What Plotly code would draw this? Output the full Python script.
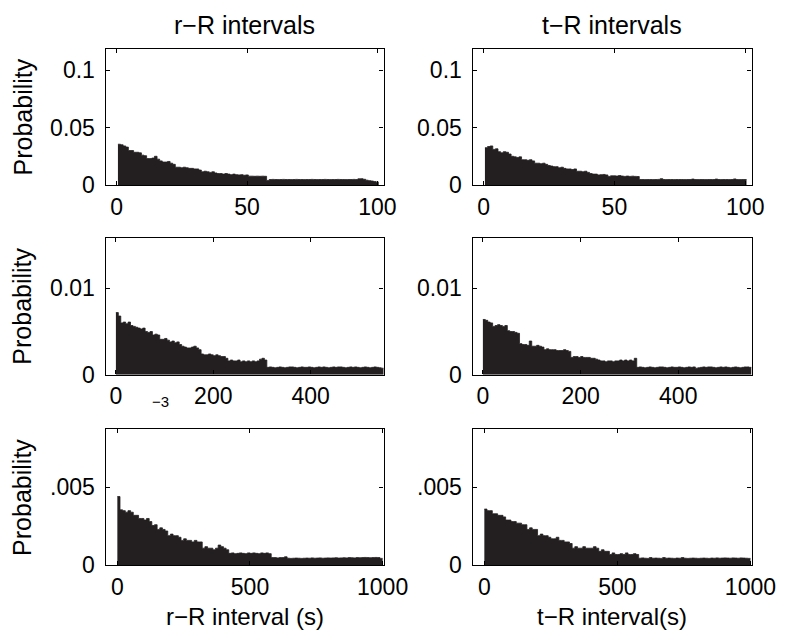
import plotly.graph_objects as go

# ---------------- data ----------------
# Row 1: bins of width 1 s, centred on 1..100
top_bin_width = 1
top_bin_start = 0.5
rr_top = [
    0.0355, 0.035, 0.034, 0.033, 0.030, 0.030, 0.0285, 0.0285, 0.028, 0.026,
    0.0255, 0.023, 0.023, 0.0235, 0.025, 0.0225, 0.021, 0.020, 0.020, 0.0205,
    0.019, 0.018, 0.0155, 0.0155, 0.015, 0.0155, 0.015, 0.0145, 0.0145, 0.014,
    0.014, 0.013, 0.0115, 0.012, 0.0115, 0.011, 0.0115, 0.0105, 0.010, 0.010,
    0.0095, 0.010, 0.0095, 0.009, 0.0095, 0.009, 0.0088, 0.009, 0.0085, 0.0088,
    0.0077, 0.0077, 0.0076, 0.0077, 0.0076, 0.0077, 0.0076, 0.0040, 0.0048, 0.0049,
    0.0048, 0.0047, 0.0048, 0.0049, 0.0048, 0.0048, 0.0047, 0.0048, 0.0049, 0.0048,
    0.0048, 0.0047, 0.0048, 0.0048, 0.0049, 0.0048, 0.0047, 0.0048, 0.0048, 0.0049,
    0.0048, 0.0047, 0.0048, 0.0048, 0.0049, 0.0048, 0.0048, 0.0047, 0.0048, 0.0048,
    0.0049, 0.0048, 0.0054, 0.0055, 0.0050, 0.0042, 0.0038, 0.0035, 0.0030, 0.0025,
]
tr_top = [
    0.0325, 0.0335, 0.034, 0.031, 0.0315, 0.029, 0.028, 0.029, 0.0285, 0.027,
    0.025, 0.0245, 0.024, 0.0245, 0.022, 0.022, 0.0215, 0.022, 0.021, 0.019,
    0.019, 0.0185, 0.019, 0.018, 0.017, 0.0165, 0.016, 0.016, 0.015, 0.0155,
    0.0145, 0.014, 0.014, 0.0135, 0.014, 0.012, 0.012, 0.0115, 0.012, 0.011,
    0.010, 0.0095, 0.0095, 0.0088, 0.009, 0.0092, 0.0088, 0.0075, 0.008, 0.008,
    0.0078, 0.0082, 0.0078, 0.0075, 0.0078, 0.0075, 0.0077, 0.0075, 0.0074, 0.0048,
    0.0048, 0.0047, 0.0048, 0.0048, 0.0047, 0.0048, 0.0049, 0.0055, 0.0048, 0.0047,
    0.0048, 0.0048, 0.0047, 0.0048, 0.0048, 0.0048, 0.0047, 0.0048, 0.0048, 0.0052,
    0.0048, 0.0047, 0.0048, 0.0048, 0.0047, 0.0048, 0.0048, 0.0048, 0.0052, 0.0048,
    0.0047, 0.0048, 0.0048, 0.0047, 0.0048, 0.0053, 0.0048, 0.0047, 0.0048, 0.0048,
]

# Row 2: bins of width 5 s, from 0 to 550
mid_bin_width = 5
mid_bin_start = 0
rr_mid = [
    0.0072, 0.0068, 0.0060, 0.0061, 0.0059, 0.0061, 0.0057, 0.0056, 0.0055, 0.0054,
    0.0053, 0.0054, 0.0050, 0.0049, 0.0050, 0.0046, 0.0047, 0.0046, 0.0041, 0.0041,
    0.0042, 0.0040, 0.0038, 0.0039, 0.0037, 0.0038, 0.0035, 0.0033, 0.0032, 0.0031,
    0.0031, 0.0032, 0.0033, 0.0031, 0.0029, 0.0024, 0.0023, 0.0023, 0.0024, 0.0023,
    0.0022, 0.0023, 0.0022, 0.0021, 0.0021, 0.0019, 0.0016, 0.0017, 0.0016, 0.0016,
    0.0017, 0.0015, 0.0016, 0.0015, 0.0016, 0.0015, 0.0016, 0.0015, 0.0016, 0.0018,
    0.0019, 0.0017, 0.00085, 0.0009, 0.00085, 0.0008, 0.00085, 0.0009, 0.00085, 0.0008,
    0.00085, 0.0009, 0.0009, 0.00085, 0.0008, 0.00085, 0.0009, 0.00085, 0.00085, 0.0009,
    0.00085, 0.0008, 0.00085, 0.0009, 0.00085, 0.0009, 0.00085, 0.0008, 0.00085, 0.0009,
    0.00085, 0.0009, 0.0009, 0.00085, 0.0008, 0.00085, 0.0009, 0.00085, 0.0009, 0.00085,
    0.0008, 0.00085, 0.0009, 0.00085, 0.0008, 0.00085, 0.0009, 0.00085, 0.0008, 0.00075,
]
tr_mid = [
    0.0064, 0.0063, 0.0061, 0.0060, 0.0056, 0.0057, 0.0058, 0.0057, 0.0056, 0.0057,
    0.0051, 0.0050, 0.0050, 0.0049, 0.0048, 0.0036, 0.0035, 0.0035, 0.0034, 0.0039,
    0.0033, 0.0033, 0.0034, 0.0033, 0.0032, 0.0029, 0.0030, 0.0029, 0.0029, 0.0029,
    0.0028, 0.0028, 0.0028, 0.0029, 0.0028, 0.0027, 0.0020, 0.0021, 0.0021, 0.0020,
    0.0021, 0.0020, 0.0020, 0.0020, 0.0019, 0.0019, 0.0018, 0.0017, 0.0016, 0.0016,
    0.0015, 0.0016, 0.0016, 0.0015, 0.0016, 0.0016, 0.0017, 0.0016, 0.0017, 0.0016,
    0.0017, 0.0016, 0.0019, 0.00085, 0.0009, 0.00085, 0.0008, 0.00085, 0.0009, 0.00085,
    0.0008, 0.00085, 0.0009, 0.0009, 0.00085, 0.0008, 0.00085, 0.0009, 0.00085, 0.00085,
    0.0009, 0.00085, 0.0008, 0.00085, 0.0009, 0.00085, 0.0009, 0.00075, 0.0008, 0.00085,
    0.0009, 0.00085, 0.0009, 0.0009, 0.00085, 0.0008, 0.00085, 0.0009, 0.00085, 0.0009,
    0.00085, 0.0008, 0.00085, 0.0009, 0.00085, 0.0008, 0.00085, 0.0009, 0.0009, 0.00085,
]

# Row 3: bins of width 10 s, from 0 to 1000
bot_bin_width = 10
bot_bin_start = 0
rr_bot = [
    0.0044, 0.00355, 0.0035, 0.0034, 0.0035, 0.0034, 0.0032, 0.0032, 0.0030, 0.0030,
    0.0029, 0.0030, 0.0028, 0.00255, 0.0026, 0.0023, 0.0024, 0.0023, 0.0022, 0.0019,
    0.0020, 0.0019, 0.0019, 0.0018, 0.0016, 0.0017, 0.0016, 0.0016, 0.0015, 0.0016,
    0.0015, 0.0015, 0.0011, 0.0012, 0.0011, 0.0011, 0.0010, 0.0011, 0.0013, 0.0012,
    0.0011, 0.0010, 0.00077, 0.0008, 0.00075, 0.00077, 0.0008, 0.00077, 0.00075, 0.0008,
    0.00077, 0.0008, 0.00077, 0.00075, 0.0008, 0.00077, 0.0008, 0.00075, 0.0005, 0.0005,
    0.00048, 0.0005, 0.0005, 0.00055, 0.00046, 0.00045, 0.00046, 0.00047, 0.00046, 0.00045,
    0.00046, 0.00047, 0.00046, 0.00048, 0.00046, 0.00047, 0.00048, 0.00046, 0.00047, 0.00048,
    0.00047, 0.00048, 0.00049, 0.00047, 0.00048, 0.00049, 0.00048, 0.0005, 0.00049, 0.00048,
    0.0005, 0.00049, 0.0005, 0.00051, 0.0005, 0.00049, 0.0005, 0.00051, 0.0005, 0.00045,
]
tr_bot = [
    0.0036, 0.0035, 0.0035, 0.0033, 0.0033, 0.0032, 0.0032, 0.0031, 0.0029, 0.0029,
    0.0028, 0.0028, 0.0027, 0.0027, 0.0026, 0.0026, 0.0023, 0.0024, 0.0023, 0.0023,
    0.0019, 0.0020, 0.0019, 0.0019, 0.0018, 0.0017, 0.0017, 0.0018, 0.0016, 0.0016,
    0.0015, 0.0015, 0.0014, 0.0011, 0.0012, 0.0011, 0.0011, 0.0012, 0.0011, 0.0011,
    0.0011, 0.0012, 0.0011, 0.0009, 0.0010, 0.0009, 0.0009, 0.0007, 0.0008, 0.0007,
    0.0007, 0.00075, 0.0007, 0.0008, 0.0007, 0.0007, 0.00075, 0.0007, 0.00046, 0.00048,
    0.00046, 0.00045, 0.0005, 0.00046, 0.00047, 0.00046, 0.00045, 0.0005, 0.00046, 0.00047,
    0.00046, 0.00045, 0.00047, 0.00046, 0.0005, 0.00046, 0.00045, 0.00046, 0.00047, 0.00046,
    0.00045, 0.00046, 0.00047, 0.00046, 0.00045, 0.00047, 0.00046, 0.00048, 0.00046, 0.00047,
    0.00048, 0.00047, 0.00046, 0.00048, 0.00047, 0.00046, 0.00048, 0.00047, 0.00046, 0.00045,
]

col_titles = ["r\u2212R intervals", "t\u2212R intervals"]
x_titles = ["r\u2212R interval (s)", "t\u2212R interval(s)"]
y_title = "Probability"

row_xticks = [[0, 50, 100], [0, 200, 400], [0, 500, 1000]]
row_yticks = [[0, 0.05, 0.1], [0, 0.01], [0, 0.005]]
row_yticktext = [["0", "0.05", "0.1"], ["0", "0.01"], ["0", ".005"]]
row_xrange = [[-4.2, 102.4], [-21, 550], [-44, 1004]]
row_yrange = [[0, 0.1185], [0, 0.0159], [0, 0.0087]]

# ---------------- layout geometry ----------------
W, H = 800, 639
col_px = [(100.7, 387.3), (479.0, 766.5)]
row_px = [(41.7, 180.7), (234.3, 374.3), (430.0, 569.0)]

BAR = "#231f20"
FONT = "Liberation Sans, Arial, Helvetica, sans-serif"

fig = go.Figure()

series = [
    [(rr_top, top_bin_start, top_bin_width), (tr_top, top_bin_start, top_bin_width)],
    [(rr_mid, mid_bin_start, mid_bin_width), (tr_mid, mid_bin_start, mid_bin_width)],
    [(rr_bot, bot_bin_start, bot_bin_width), (tr_bot, bot_bin_start, bot_bin_width)],
]

annotations = []
for r in range(3):
    for c in range(2):
        k = r * 2 + c + 1
        xa = "x" if k == 1 else f"x{k}"
        ya = "y" if k == 1 else f"y{k}"
        vals, start, wdt = series[r][c]
        edges = [start + wdt * i for i in range(len(vals) + 1)]
        heights = list(vals) + [vals[-1]]
        # histogram drawn as a filled step outline (hv)
        fig.add_trace(go.Scatter(
            x=edges, y=heights, xaxis=xa, yaxis=ya, mode="lines",
            line=dict(color=BAR, width=0.8, shape="hv"),
            fill="tozeroy", fillcolor=BAR,
            showlegend=False, hoverinfo="skip",
        ))
        x0, x1 = col_px[c]
        y0, y1 = row_px[r]
        axis_common = dict(
            showline=True, linecolor="black", linewidth=1.4, mirror="ticks",
            ticks="inside", ticklen=4, tickwidth=1.2, tickcolor="black",
            showgrid=False, zeroline=False,
            tickfont=dict(family=FONT, size=23, color="black"),
        )
        fig.layout[("xaxis" if k == 1 else f"xaxis{k}")] = dict(
            domain=[x0 / W, x1 / W], anchor=ya, range=row_xrange[r],
            tickvals=row_xticks[r], ticktext=[str(v) for v in row_xticks[r]],
            ticklabelstandoff=1,
            **axis_common,
        )
        fig.layout[("yaxis" if k == 1 else f"yaxis{k}")] = dict(
            domain=[1 - y1 / H, 1 - y0 / H], anchor=xa, range=row_yrange[r],
            tickvals=row_yticks[r], ticktext=row_yticktext[r],
            ticklabelstandoff=5,
            **axis_common,
        )

# column titles and x-axis titles
for c in range(2):
    cx = (col_px[c][0] + col_px[c][1]) / 2
    annotations.append(dict(text=col_titles[c], x=cx / W, y=1 - 17 / H,
                            xref="paper", yref="paper", showarrow=False,
                            xanchor="center", yanchor="middle",
                            font=dict(family=FONT, size=25, color="black")))
    annotations.append(dict(text=x_titles[c], x=cx / W, y=1 - 621 / H,
                            xref="paper", yref="paper", showarrow=False,
                            xanchor="center", yanchor="middle",
                            font=dict(family=FONT, size=24, color="black")))
# y labels
for r in range(3):
    cy = (row_px[r][0] + row_px[r][1]) / 2
    annotations.append(dict(text=y_title, x=15 / W, y=1 - cy / H,
                            xref="paper", yref="paper", showarrow=False,
                            textangle=-90, xanchor="center", yanchor="middle",
                            font=dict(family=FONT, size=25, color="black")))
# stray exponent label
annotations.append(dict(text="\u22123", x=157 / W, y=1 - 402 / H,
                        xref="paper", yref="paper", showarrow=False,
                        xanchor="center", yanchor="middle",
                        font=dict(family=FONT, size=15, color="black")))

fig.update_layout(
    width=W, height=H, margin=dict(l=0, r=0, t=0, b=0),
    paper_bgcolor="white", plot_bgcolor="white",
    annotations=annotations,
    font=dict(family=FONT, color="black"),
)

fig.write_html("out.html")
